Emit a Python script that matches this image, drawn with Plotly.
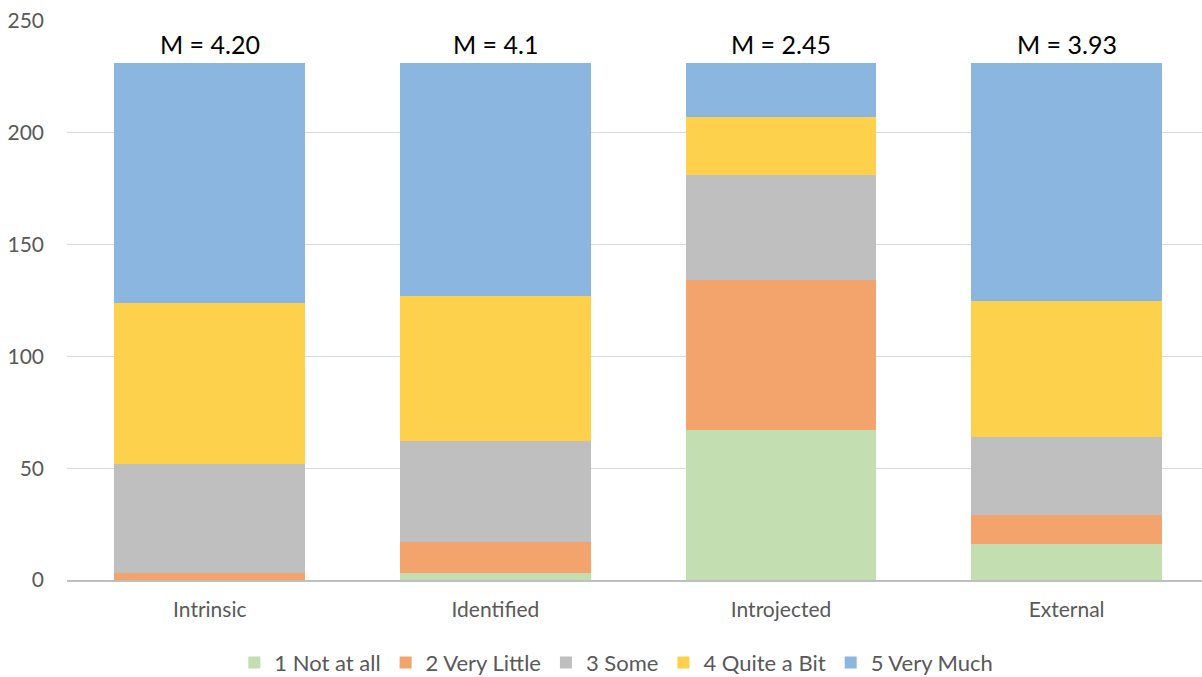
import plotly.graph_objects as go

categories = ["Intrinsic", "Identified", "Introjected", "External"]
levels = ["1 Not at all", "2 Very Little", "3 Some", "4 Quite a Bit", "5 Very Much"]
not_at_all = [0, 3, 67, 16]
very_little = [3, 14, 67, 13]
some = [49, 45, 47, 35]
quite_a_bit = [72, 65, 26, 61]
very_much = [107, 104, 24, 106]
mean_labels = ["M = 4.20", "M = 4.1", "M = 2.45", "M = 3.93"]

series = [not_at_all, very_little, some, quite_a_bit, very_much]
colors = ["#C3DEB0", "#F2A46C", "#BFBFBF", "#FDD14B", "#8BB6E0"]

FONT = "Lato, 'Open Sans', sans-serif"

fig = go.Figure()
for name, vals, col in zip(levels, series, colors):
    fig.add_trace(go.Bar(
        x=categories, y=vals, name=name,
        marker=dict(color=col, line=dict(width=0)),
        hoverinfo="x+y+name",
    ))

totals = [sum(v) for v in zip(*series)]
for cat, tot, lab in zip(categories, totals, mean_labels):
    fig.add_annotation(
        x=cat, y=tot, text=lab, showarrow=False,
        yanchor="bottom", yshift=2,
        font=dict(family=FONT, size=25, color="#000000"),
    )

fig.update_layout(
    width=1202, height=677,
    barmode="stack", bargap=0.332,
    plot_bgcolor="white", paper_bgcolor="white",
    margin=dict(l=67, r=0, t=21, b=97, autoexpand=False),
    font=dict(family=FONT, size=21, color="#595959"),
    showlegend=True,
    legend=dict(
        orientation="h", traceorder="normal",
        x=0.484, xanchor="center",
        yref="container", y=0.021, yanchor="middle",
        font=dict(family=FONT, size=22, color="#595959"),
        itemwidth=30,
    ),
    xaxis=dict(
        range=[-0.5, 3.474], showgrid=False,
        showline=True, linecolor="#BFBFBF", linewidth=1.5,
        ticks="", ticklabelstandoff=10,
        tickfont=dict(size=21, color="#595959"),
    ),
    yaxis=dict(
        range=[0, 250], dtick=50, showgrid=True, gridcolor="#D9D9D9",
        gridwidth=1, zeroline=False, showline=False, ticks="",
        ticklabelstandoff=22,
        tickfont=dict(size=21, color="#595959"),
    ),
)

fig.write_html("out.html")
